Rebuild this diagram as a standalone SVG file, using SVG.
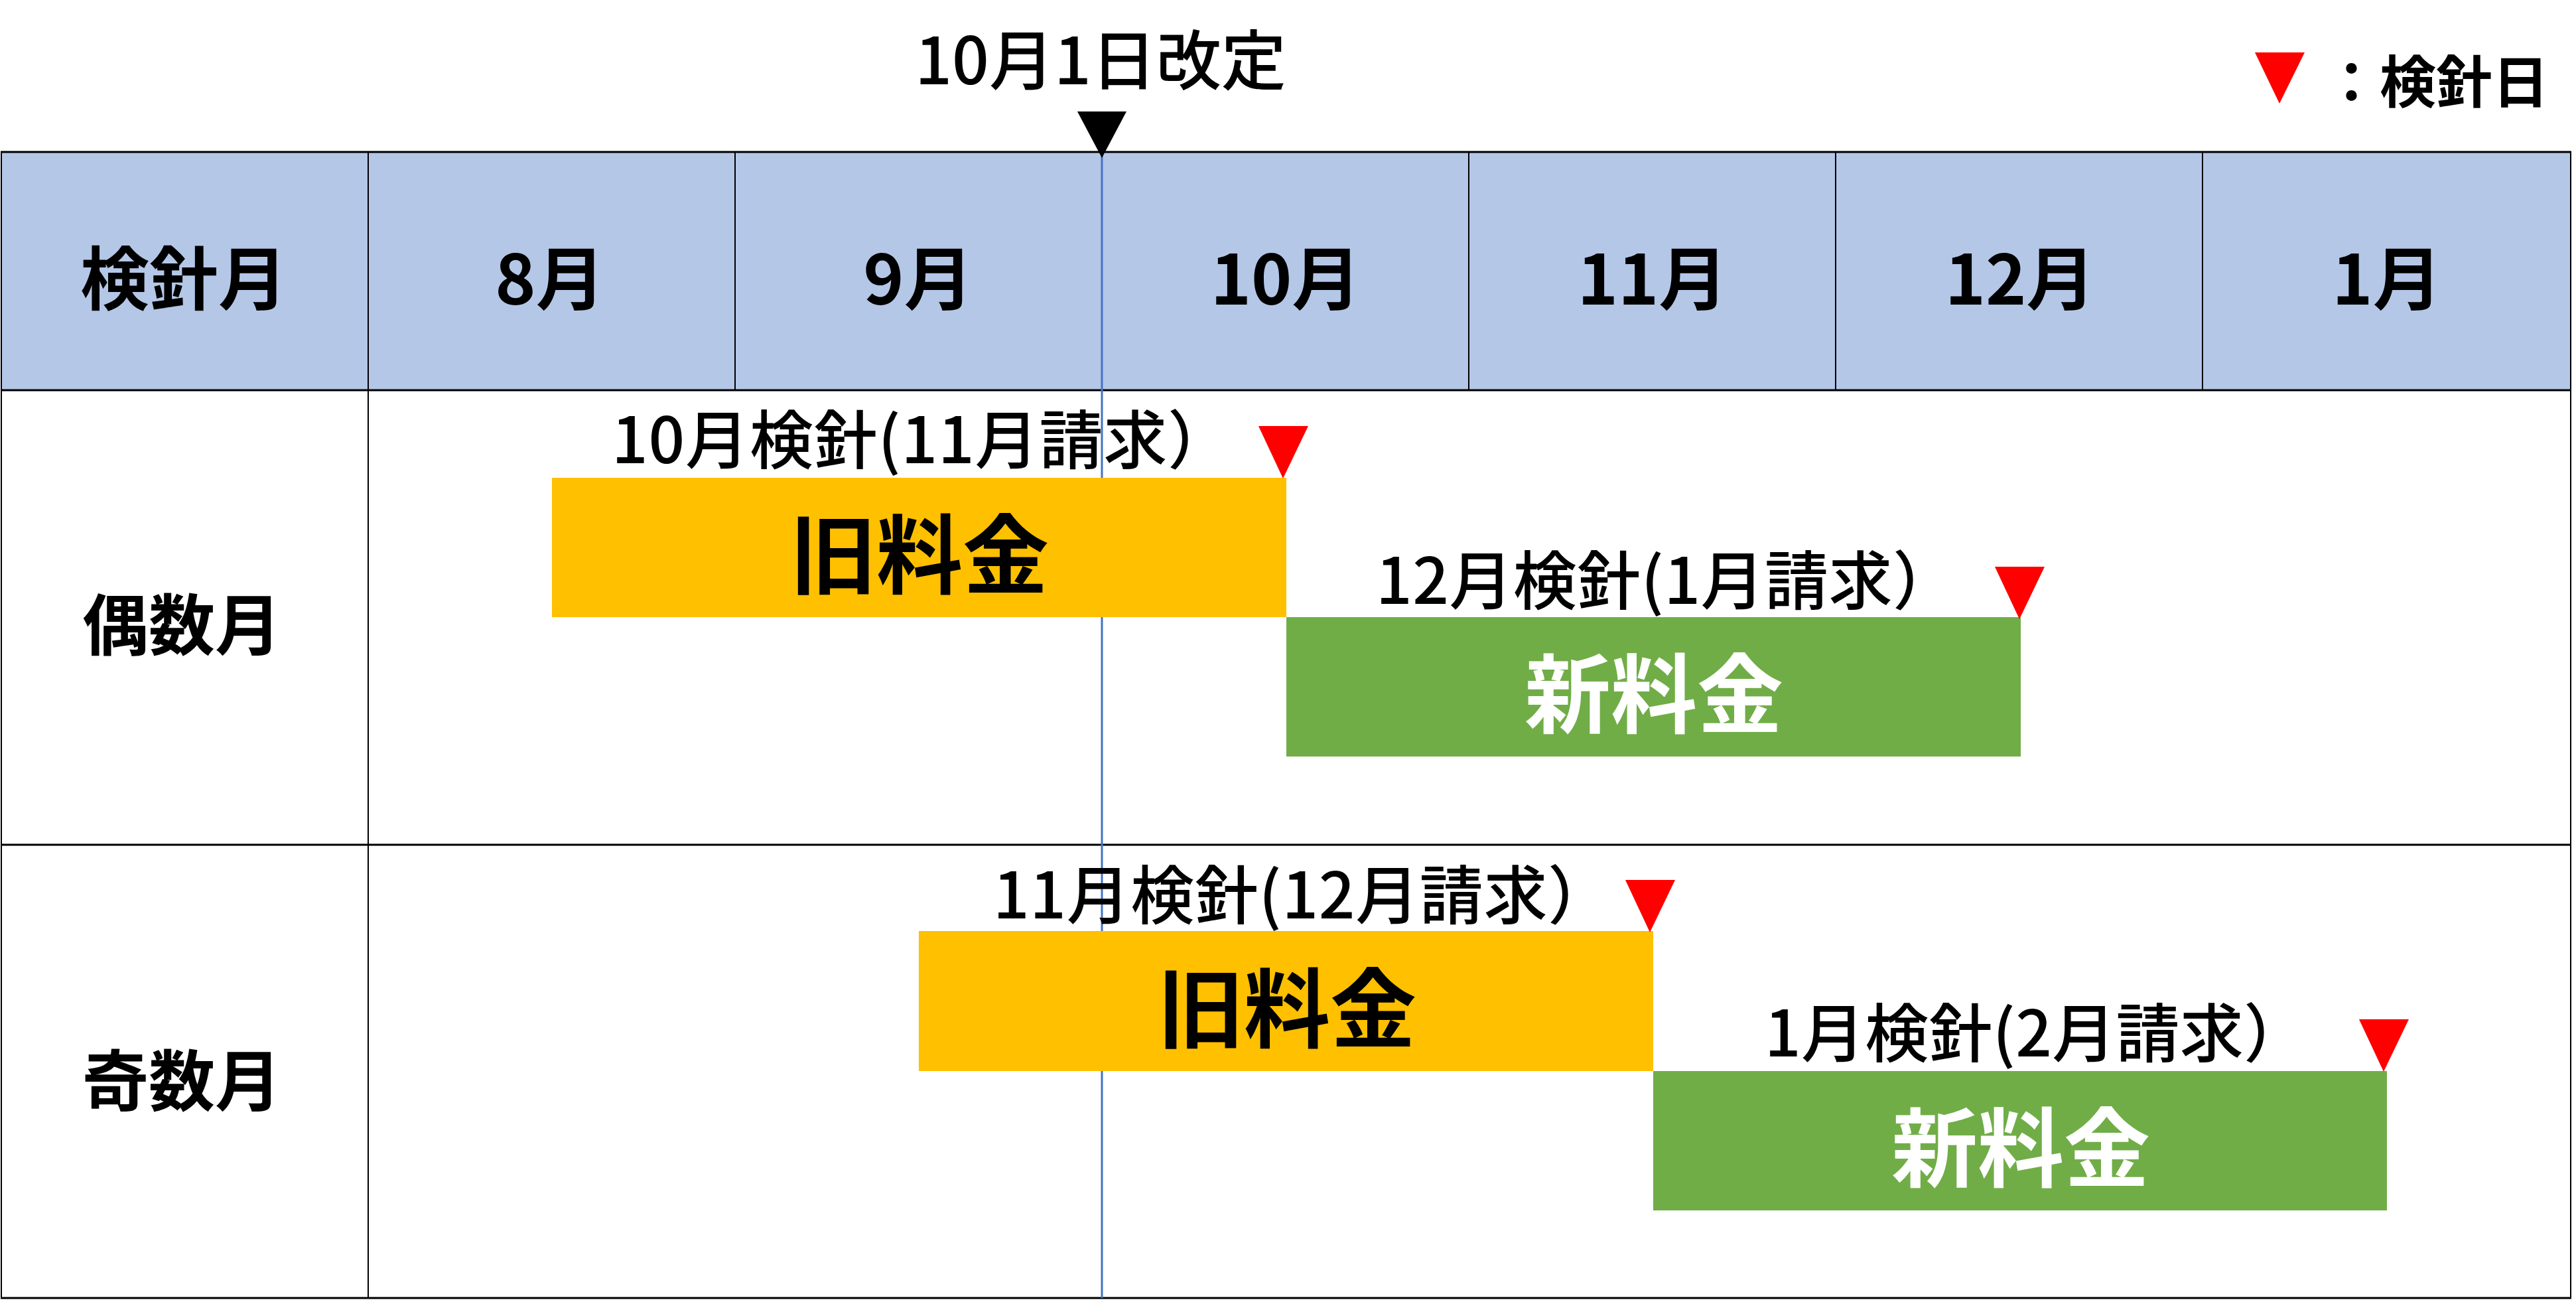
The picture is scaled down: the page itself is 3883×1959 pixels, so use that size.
<svg xmlns="http://www.w3.org/2000/svg" xmlns:xlink="http://www.w3.org/1999/xlink" width="3883" height="1959" viewBox="0 0 3883 1959">
<style>
text{font-family:"Noto Sans CJK JP","Noto Sans CJK SC",sans-serif;fill:#000}
.hd{font-size:104px;font-weight:700;text-anchor:middle}
.row{font-size:100px;font-weight:700;text-anchor:middle}
.lbl{font-size:96px;font-weight:500}
.fee{font-size:130px;font-weight:700;text-anchor:middle}
.new{fill:#fff}
.title{font-size:98px;font-weight:500;text-anchor:middle}
.leg{font-size:85px;font-weight:700}
.grid{stroke:#000;stroke-width:2;fill:none}
.hline{stroke:#000;stroke-width:3;fill:none}
.old{fill:#FFC000}
.newbox{fill:#70AD47}
.red{fill:#FF0000}
</style>
<defs>
<path id="tri" d="M-37,-79 L38,-79 L0,0 Z"/>
</defs>
<rect width="3883" height="1959" fill="#fff"/>
<g id="table">
<rect x="2" y="229" width="3873" height="359" fill="#B4C7E7"/>
<line class="grid" x1="555" y1="229" x2="555" y2="1956"/>
<line class="grid" x1="1108" y1="229" x2="1108" y2="588"/>
<line class="grid" x1="2214" y1="229" x2="2214" y2="588"/>
<line class="grid" x1="2767" y1="229" x2="2767" y2="588"/>
<line class="grid" x1="3320" y1="229" x2="3320" y2="588"/>
<line class="grid" x1="2" y1="229" x2="2" y2="1956"/>
<line class="grid" x1="3875" y1="229" x2="3875" y2="1956"/>
<line class="hline" x1="1" y1="229" x2="3876" y2="229"/>
<line class="hline" x1="1" y1="588" x2="3876" y2="588"/>
<line class="hline" x1="1" y1="1273" x2="3876" y2="1273"/>
<line class="hline" x1="1" y1="1956" x2="3876" y2="1956"/>
</g>
<g id="revision-marker">
<line x1="1661" y1="229" x2="1661" y2="1956" stroke="#4472C4" stroke-width="3"/>
<polygon points="1624,168 1698,168 1661,238" fill="#000"/>
<text class="title" x="1659" y="127">10月1日改定</text>
</g>
<g id="legend">
<polygon class="red" points="3399,79 3474,79 3436,156"/>
<text class="leg" x="3502" y="155">：検針日</text>
</g>
<g id="header">
<text class="hd" x="277" y="459">検針月</text>
<text class="hd" x="829" y="459">8月</text>
<text class="hd" x="1384" y="459">9月</text>
<text class="hd" x="1938" y="459">10月</text>
<text class="hd" x="2491" y="459">11月</text>
<text class="hd" x="3045" y="459">12月</text>
<text class="hd" x="3598" y="459">1月</text>
</g>
<g id="row-even">
<text class="row" x="274" y="979">偶数月</text>
</g>
<g id="row-odd">
<text class="row" x="274" y="1666">奇数月</text>
</g>
<g id="even-old">
<rect class="old" x="832" y="720" width="1107" height="210"/>
<text class="fee" x="1386" y="884">旧料金</text>
<text class="lbl" x="922" y="698" textLength="934">10月検針(11月請求）</text>
<use xlink:href="#tri" href="#tri" class="red" x="1934" y="721"/>
</g>
<g id="even-new">
<rect class="newbox" x="1939" y="930" width="1107" height="210"/>
<text class="fee new" x="2493" y="1094">新料金</text>
<text class="lbl" x="2074" y="910" textLength="875">12月検針(1月請求）</text>
<use xlink:href="#tri" href="#tri" class="red" x="3044" y="933"/>
</g>
<g id="odd-old">
<rect class="old" x="1385" y="1403" width="1107" height="211"/>
<text class="fee" x="1940" y="1568">旧料金</text>
<text class="lbl" x="1497" y="1384" textLength="932">11月検針(12月請求）</text>
<use xlink:href="#tri" href="#tri" class="red" x="2487" y="1405"/>
</g>
<g id="odd-new">
<rect class="newbox" x="2492" y="1614" width="1106" height="210"/>
<text class="fee new" x="3046" y="1778">新料金</text>
<text class="lbl" x="2660" y="1592" textLength="818">1月検針(2月請求）</text>
<use xlink:href="#tri" href="#tri" class="red" x="3593" y="1615"/>
</g>
<g id="connectors"></g>
</svg>
